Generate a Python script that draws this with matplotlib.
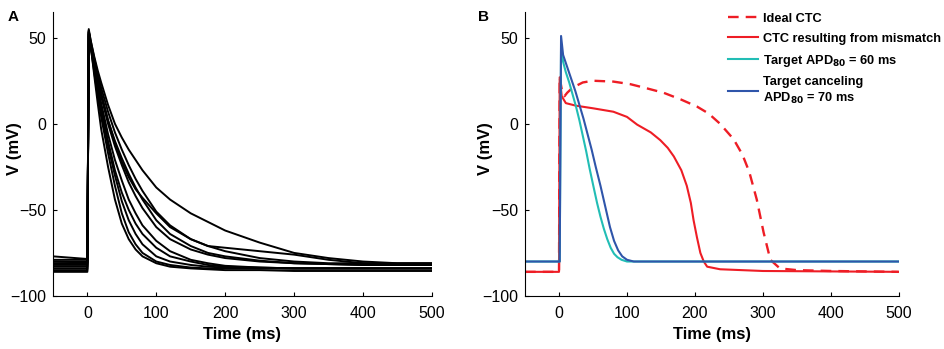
import matplotlib.pyplot as plt

plt.rcParams['font.family'] = ['Liberation Sans', 'DejaVu Sans']
plt.rcParams['axes.unicode_minus'] = True

# ---- panel A: ensemble of action potentials ----
tA = [-50, -1, 0, 2, 5, 10, 15, 20, 30, 40, 50, 60, 70, 80, 100, 120,
      150, 175, 200, 250, 300, 350, 400, 450, 500]
tracesA = [
    [-86, -86, -86, 53, 45, 28, 12, -3, -25, -44, -58, -67, -73, -77, -81, -83,
     -84, -84.5, -85, -85, -85.5, -85.5, -85.5, -85.5, -85.5],
    [-84, -84, -84, 54, 44, 30, 16, 4, -17, -36, -52, -63, -70, -75, -80, -82,
     -83.5, -84, -84, -84, -84, -84, -84, -84, -84],
    [-82, -82, -82, 54, 46, 34, 22, 12, -6, -21, -33, -44, -52, -59, -68, -74,
     -79, -81, -82.5, -83.5, -84, -84, -84, -84, -84],
    [-80, -80.5, -80.5, 52, 45, 35, 25, 16, 0, -13, -24, -34, -42, -49, -60, -67,
     -73, -76, -78, -80, -81, -81.5, -82, -82, -82],
    [-77, -78.5, -78.5, 55, 48, 38, 29, 21, 7, -5, -15, -24, -32, -39, -51, -59,
     -67, -71, -74, -78, -80, -81, -81, -81, -81],
    [-79, -79, -79, 54, 48, 39, 31, 24, 11, 0, -8, -15, -21, -27, -37, -44,
     -52, -57, -62, -69, -75, -78, -80, -81, -81],
    [-81, -81, -81, 53, 46, 36, 26, 17, 2, -11, -22, -31, -38, -43, -52, -60,
     -67, -71, -72, -74, -76, -79, -81, -82, -82],
    [-83, -83, -83, 52, 45, 33, 21, 10, -10, -27, -40, -50, -58, -64, -72, -77,
     -80, -82, -83, -83.5, -84, -84, -84, -84, -84],
    [-85, -85, -85, 53, 45, 32, 19, 7, -13, -30, -45, -56, -64, -70, -77, -80,
     -82, -83, -83.5, -84, -84, -84, -84, -84, -84],
    [-80, -80, -80, 51, 46, 37, 27, 18, 2, -10, -20, -29, -37, -44, -56, -64,
     -71, -75, -77, -79.5, -81, -81.5, -82, -82, -82],
]

# ---- panel B: CTC comparison ----
t_ideal = [-50, 0, 1, 4, 8, 12, 20, 35, 50, 80, 105, 130, 154, 180, 203, 220,
           237, 257, 270, 280, 291, 301, 311, 325, 350, 400, 500]
v_ideal = [-86, -86, 27, 20, 16, 18, 21, 24, 25, 24.5, 23, 20.5, 18, 14, 10, 6,
           0, -9, -18, -28, -44, -63, -79, -84, -85, -85.5, -86]
t_mis = [-50, 0, 1, 4, 10, 25, 50, 80, 100, 115, 135, 149, 160, 169, 180, 188,
         194, 198, 203, 208, 213, 218, 237, 300, 500]
v_mis = [-86, -86, 27, 16, 12, 10.5, 9, 7, 4, -0.5, -5, -9.5, -14, -19, -27, -36,
         -46, -56, -66, -75, -80, -83, -84.5, -85.5, -86]
t_t60 = [-50, 1, 3, 6, 10, 15, 20, 25, 30, 35, 40, 45, 51, 56, 61, 66, 71,
         76, 81, 86, 92, 100, 500]
v_t60 = [-80, -80, 45, 36, 30, 24, 17, 10, 2, -7, -16, -26, -37, -46, -54, -61,
         -67, -72, -75.5, -77.5, -79, -80, -80]
t_t70 = [-50, 1, 3, 6, 12, 18, 24, 30, 36, 42, 48, 54, 61, 68, 75, 81, 87,
         93, 100, 110, 500]
v_t70 = [-80, -80, 51, 40, 33, 26, 19, 11, 3, -6, -15, -25, -36, -48, -60, -68,
         -73.5, -77, -79, -80, -80]

labelsB = ['Ideal CTC', 'CTC resulting from mismatch',
           'Target APD$_{\\mathbf{80}}$ = 60 ms',
           'Target canceling\nAPD$_{\\mathbf{80}}$ = 70 ms']

red = '#ee1d25'
cyan = '#22bdb5'
blue = '#2f55aa'

fig = plt.figure(figsize=(9.45, 3.49), dpi=100)
axA = fig.add_axes([0.056, 0.152, 0.401, 0.814])
axB = fig.add_axes([0.5556, 0.152, 0.3955, 0.814])

for v in tracesA:
    axA.plot(tA, v, color='black', lw=1.4)

axB.plot(t_ideal, v_ideal, color=red, lw=1.7, ls=(0, (4.5, 3)), label=labelsB[0])
axB.plot(t_mis, v_mis, color=red, lw=1.5, label=labelsB[1])
axB.plot(t_t60, v_t60, color=cyan, lw=1.5, label=labelsB[2])
axB.plot(t_t70, v_t70, color=blue, lw=1.5, label=labelsB[3])

for ax in (axA, axB):
    ax.set_xlim(-50, 500)
    ax.set_ylim(-100, 65)
    ax.set_xticks([0, 100, 200, 300, 400, 500])
    ax.set_yticks([-100, -50, 0, 50])
    ax.spines['top'].set_visible(False)
    ax.spines['right'].set_visible(False)
    ax.tick_params(direction='in', length=3, labelsize=11.5)
    ax.tick_params(axis='x', pad=7)
    ax.tick_params(axis='y', pad=5)
    ax.set_xlabel('Time (ms)', fontsize=12, fontweight='bold')
    ax.set_ylabel('V (mV)', fontsize=12, fontweight='bold')
    ax.xaxis.set_label_coords(0.5, -0.11)

axA.yaxis.set_label_coords(-0.082, 0.52)
axB.yaxis.set_label_coords(-0.086, 0.52)

leg = axB.legend(loc='upper left', bbox_to_anchor=(0.53, 1.015), frameon=False,
                 prop={'weight': 'bold', 'size': 9.2}, handlelength=2.3,
                 handletextpad=0.45, labelspacing=0.62, borderaxespad=0)

fig.text(0.008, 0.94, 'A', fontsize=11, fontweight='bold')
fig.text(0.506, 0.94, 'B', fontsize=11, fontweight='bold')

fig.savefig('out.png', dpi=100)
